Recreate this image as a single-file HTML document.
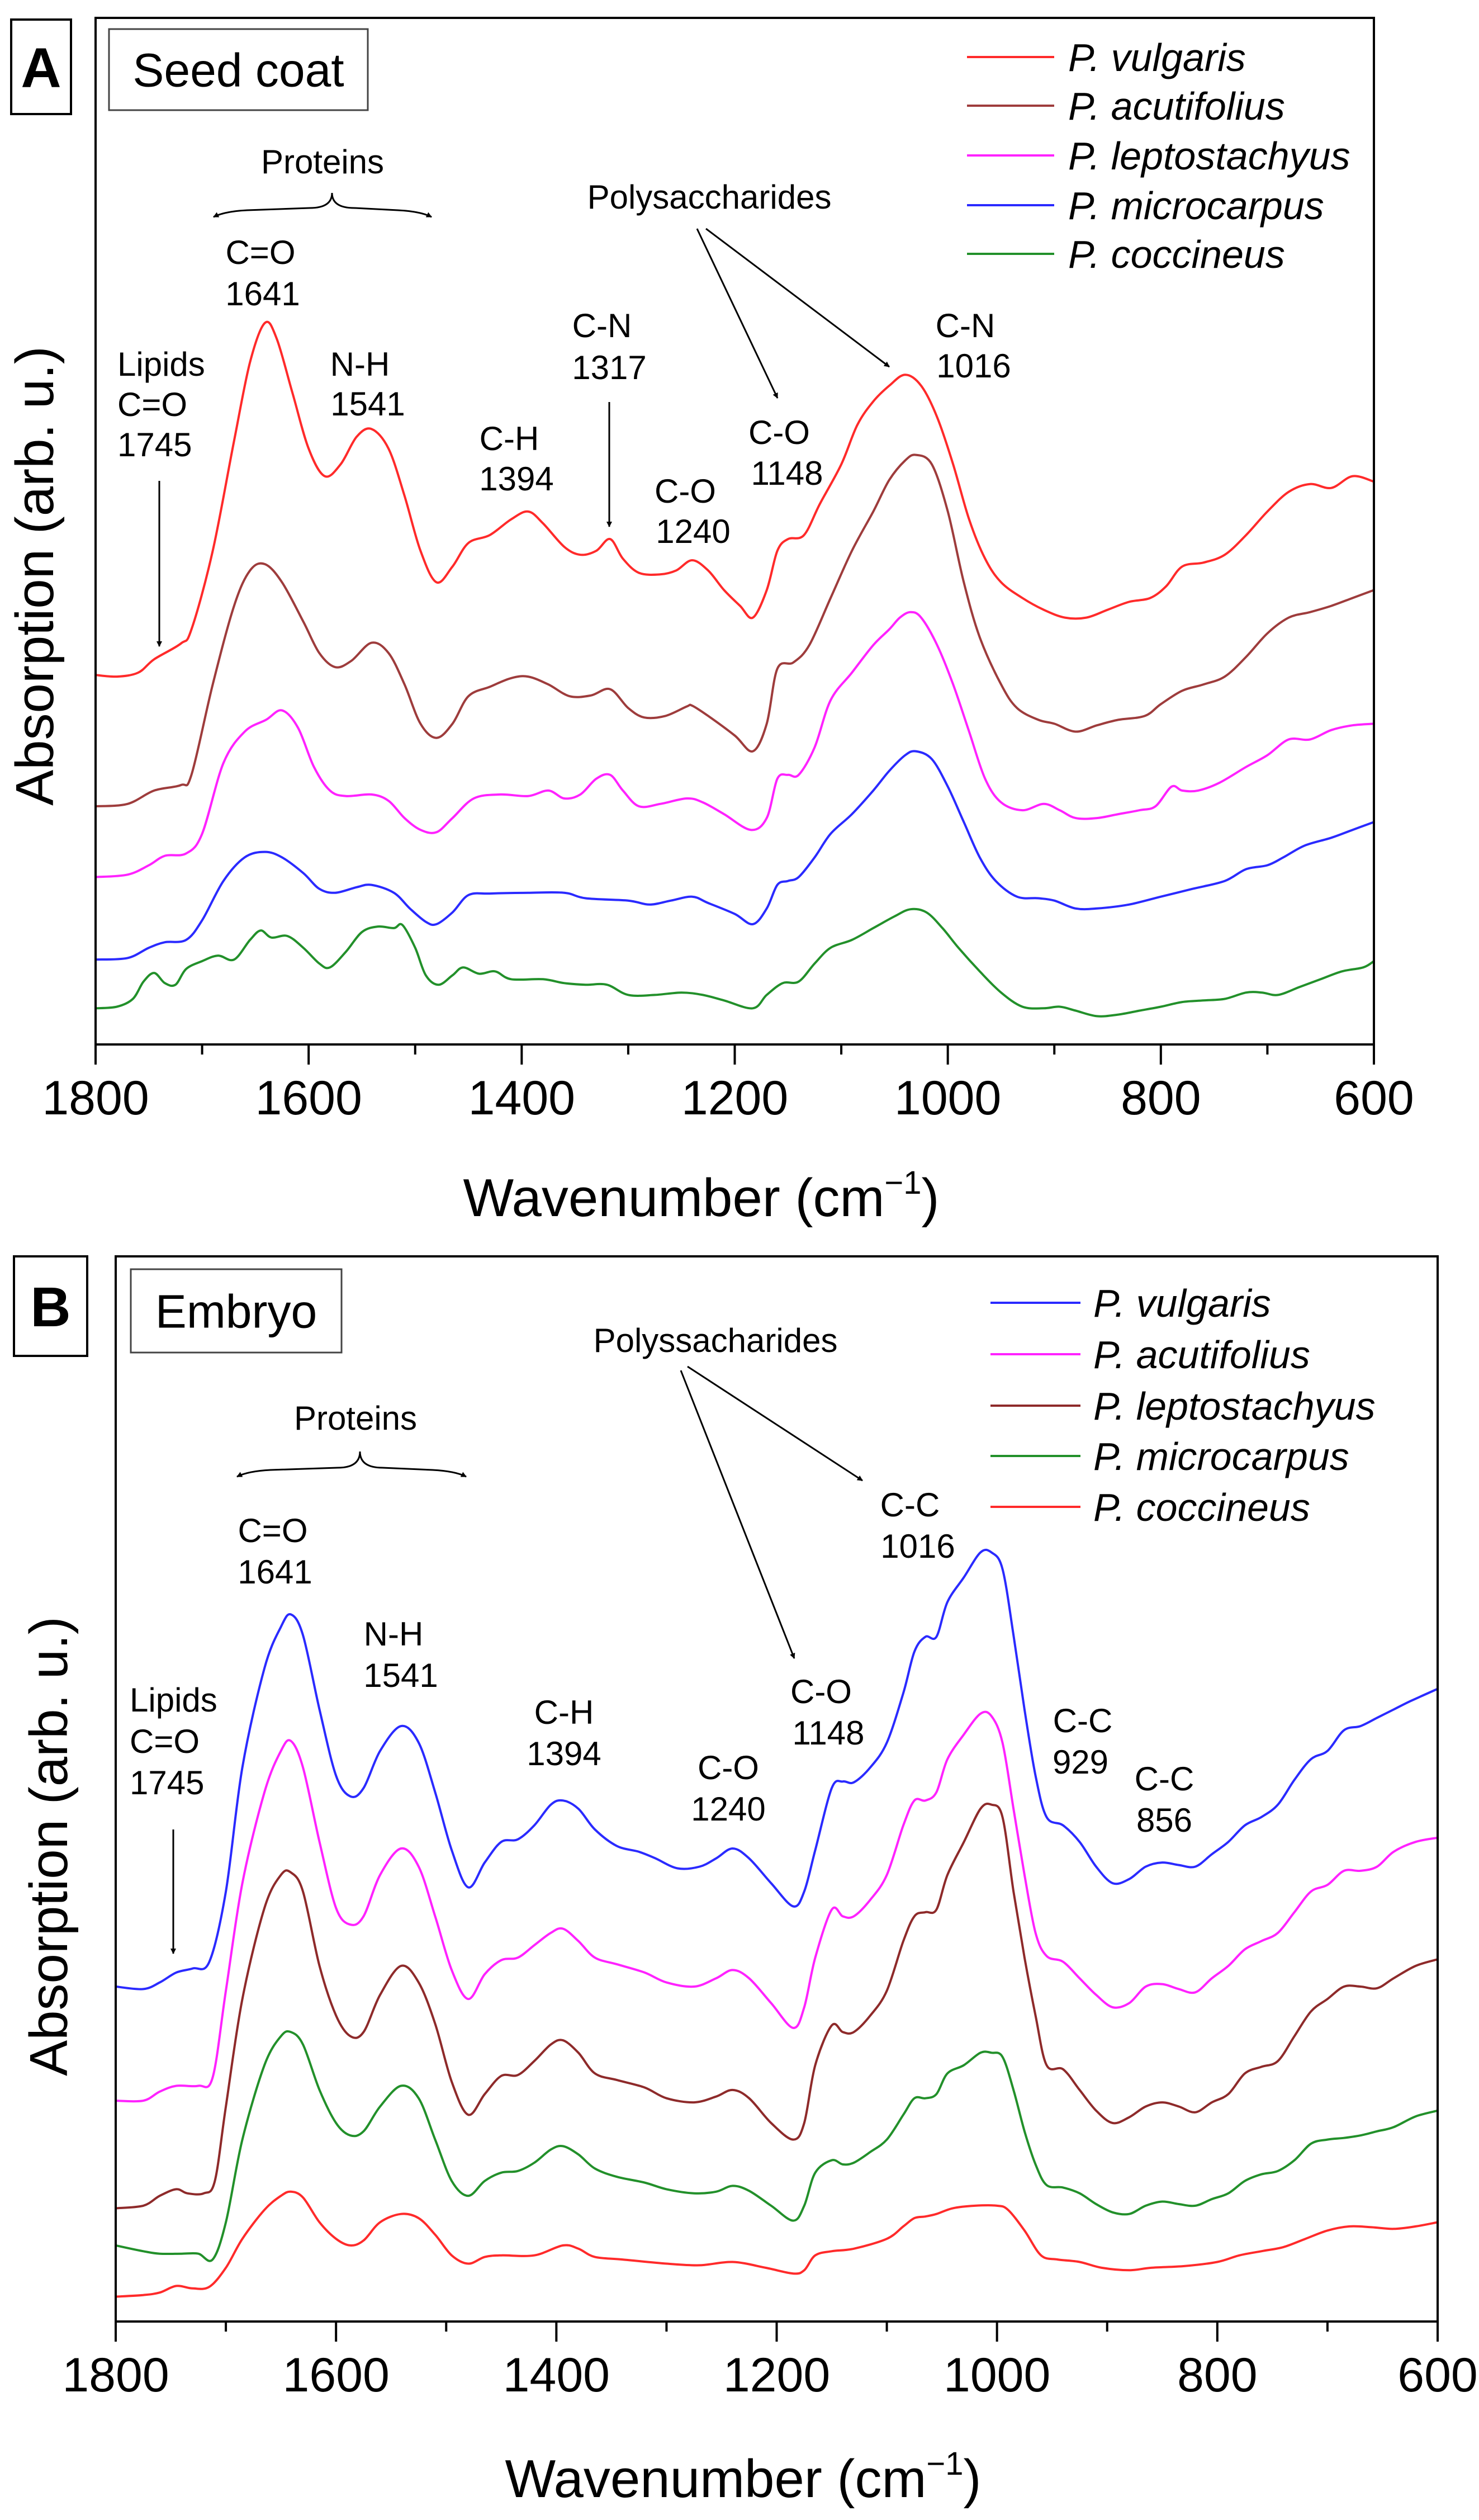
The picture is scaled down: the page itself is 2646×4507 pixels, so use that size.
<!DOCTYPE html>
<html><head><meta charset="utf-8"><style>
html,body{margin:0;padding:0;background:#fff;}
svg{display:block;font-family:"Liberation Sans",Arial,sans-serif;}
</style></head><body>
<svg id="chart" width="2646" height="4507" viewBox="0 0 2646 4507" xmlns="http://www.w3.org/2000/svg">
<defs>
<marker id="ah" markerWidth="10" markerHeight="10" refX="9" refY="5" orient="auto" markerUnits="userSpaceOnUse" viewBox="0 0 10 10"><path d="M0,0 L10,5 L0,10 z" fill="#000"/></marker>
</defs>
<rect width="2646" height="4507" fill="#fff"/>
<g id="panelA"></g>
<g id="panelB"></g>
</svg>
<script>
// ===== Data: panel A (seed coat). Values = read offsets below frame top (larger = lower absorption) =====
const A_vulgaris_wn=[1800,1780,1760,1745,1720,1710,1690,1670,1655,1641,1630,1615,1600,1585,1570,1555,1541,1525,1510,1495,1480,1465,1450,1430,1410,1394,1380,1360,1345,1330,1317,1305,1290,1270,1255,1240,1225,1210,1195,1183,1170,1160,1150,1135,1120,1100,1085,1070,1055,1040,1025,1010,995,980,965,950,930,910,890,870,850,830,810,795,780,760,740,720,700,680,660,640,620,600];
const A_vulgaris_val=[858,860,855,838,818,800,700,560,460,410,430,500,570,605,590,555,545,570,630,700,740,720,690,680,660,650,665,695,705,700,685,710,728,730,725,712,725,750,770,785,750,700,685,680,640,590,540,510,490,476,490,530,590,660,710,740,760,775,785,785,775,765,760,745,720,715,705,680,650,625,615,620,605,612];
const A_acutifolius_wn=[1800,1770,1745,1720,1710,1690,1670,1655,1641,1625,1605,1590,1575,1560,1541,1525,1510,1495,1480,1465,1450,1430,1410,1394,1375,1355,1335,1317,1300,1285,1265,1245,1240,1225,1200,1183,1170,1160,1145,1130,1110,1090,1070,1055,1040,1030,1015,1000,985,970,950,935,915,900,880,860,840,815,800,780,760,740,720,700,680,660,640,620,600];
const A_acutifolius_val=[1025,1022,1005,998,985,870,770,725,717,740,790,830,848,840,817,830,870,920,938,920,885,873,862,860,870,885,884,876,900,912,910,898,897,910,935,955,920,850,842,820,760,700,650,610,585,578,590,650,740,810,870,900,915,920,930,922,915,910,895,878,870,860,835,805,785,778,770,760,750];
const A_leptostachyus_wn=[1800,1770,1750,1735,1715,1700,1680,1660,1640,1625,1610,1595,1580,1565,1541,1525,1510,1495,1480,1465,1445,1420,1394,1375,1360,1345,1330,1317,1305,1290,1270,1245,1230,1210,1185,1170,1160,1150,1140,1125,1110,1090,1070,1055,1045,1035,1025,1010,995,980,965,950,930,910,895,880,860,840,820,805,790,780,765,745,720,700,680,660,640,620,600];
const A_leptostachyus_val=[1115,1112,1100,1088,1085,1060,970,930,915,903,925,975,1005,1012,1010,1018,1040,1055,1058,1040,1015,1010,1012,1005,1015,1010,990,985,1005,1025,1022,1015,1020,1035,1055,1040,990,985,985,950,890,855,820,800,785,778,785,820,870,930,990,1020,1030,1022,1030,1040,1040,1035,1030,1025,1000,1005,1005,995,975,960,940,940,928,922,920];
const A_microcarpus_wn=[1800,1770,1750,1735,1715,1700,1680,1660,1641,1625,1605,1590,1575,1555,1541,1520,1505,1490,1480,1465,1450,1430,1394,1360,1340,1300,1280,1260,1240,1225,1200,1183,1170,1160,1150,1140,1125,1110,1090,1070,1055,1040,1030,1015,1000,985,970,955,935,915,900,880,860,830,800,770,740,720,700,685,665,640,620,600];
const A_microcarpus_val=[1220,1218,1205,1198,1195,1170,1120,1090,1083,1090,1110,1130,1135,1128,1125,1135,1155,1172,1175,1160,1138,1136,1135,1135,1142,1145,1150,1145,1140,1148,1162,1175,1155,1125,1120,1115,1090,1060,1035,1005,980,960,955,965,1000,1045,1090,1120,1140,1142,1145,1155,1155,1150,1140,1130,1120,1105,1100,1090,1075,1065,1055,1045];
const A_coccineus_wn=[1800,1780,1765,1755,1745,1735,1725,1715,1700,1685,1670,1655,1645,1635,1620,1605,1590,1580,1565,1550,1535,1520,1512,1500,1490,1478,1465,1455,1440,1425,1410,1380,1360,1340,1320,1300,1275,1250,1230,1210,1183,1170,1155,1140,1125,1110,1090,1070,1050,1035,1020,1005,990,970,950,930,910,895,880,860,840,820,800,780,760,740,720,705,690,670,650,630,610,600];
const A_coccineus_val=[1282,1280,1270,1248,1237,1250,1252,1232,1222,1215,1220,1195,1183,1192,1190,1205,1225,1230,1210,1185,1178,1180,1176,1205,1240,1252,1240,1230,1238,1235,1245,1245,1250,1252,1252,1265,1265,1262,1265,1272,1282,1265,1250,1248,1225,1205,1195,1180,1165,1156,1160,1180,1205,1235,1262,1280,1282,1280,1285,1292,1290,1285,1280,1274,1272,1270,1262,1262,1265,1255,1245,1235,1230,1222];

// ===== Data: panel B (embryo) =====
const B_vulgaris_wn=[1800,1775,1760,1745,1730,1715,1700,1685,1665,1650,1641,1630,1615,1600,1587,1575,1560,1541,1525,1510,1495,1480,1465,1450,1435,1420,1405,1394,1380,1365,1345,1325,1310,1290,1270,1255,1240,1225,1205,1185,1175,1165,1150,1140,1130,1115,1100,1085,1075,1065,1055,1045,1030,1015,1005,995,985,975,965,955,940,925,910,895,880,865,850,835,820,805,790,775,760,745,730,715,700,685,670,655,640,625,600];
const B_vulgaris_val=[915,918,910,898,893,885,800,650,530,480,465,490,580,660,685,675,630,600,620,680,750,795,765,740,737,720,695,690,700,725,745,752,760,772,770,760,748,760,790,818,800,750,675,667,668,650,620,560,510,492,492,450,420,390,390,410,490,580,660,710,720,740,770,790,785,770,765,768,770,755,740,720,710,695,665,640,630,605,600,590,580,570,555];
const B_acutifolius_wn=[1800,1775,1760,1745,1725,1712,1700,1685,1665,1650,1641,1630,1615,1600,1587,1575,1560,1541,1525,1510,1495,1480,1465,1450,1435,1420,1405,1394,1380,1365,1345,1320,1300,1275,1255,1240,1225,1205,1185,1175,1165,1150,1140,1130,1115,1100,1085,1075,1065,1055,1045,1030,1015,1005,995,985,975,965,955,940,925,910,895,880,865,850,835,820,805,790,775,760,745,730,715,700,685,670,655,640,620,600];
const B_acutifolius_val=[1053,1053,1042,1035,1035,1025,920,790,680,630,618,650,740,820,840,830,780,748,770,830,895,930,900,883,880,865,850,845,860,880,888,898,910,915,905,895,905,935,965,940,880,822,830,830,810,780,720,690,690,680,640,610,585,588,620,700,780,850,878,885,905,925,940,935,915,912,918,922,905,890,870,860,850,825,800,792,775,775,770,752,740,735];
const B_leptostachyus_wn=[1800,1775,1760,1745,1735,1720,1710,1700,1685,1665,1650,1641,1630,1615,1600,1587,1575,1560,1541,1525,1510,1495,1480,1465,1450,1435,1420,1405,1394,1380,1365,1345,1320,1300,1275,1255,1240,1225,1205,1185,1175,1165,1150,1140,1130,1115,1100,1085,1075,1065,1055,1045,1030,1015,1005,995,985,975,965,955,940,925,910,895,880,865,850,835,820,805,790,775,760,745,730,715,700,685,670,655,640,620,600];
const B_leptostachyus_val=[1183,1180,1168,1160,1165,1165,1150,1060,930,820,780,777,800,890,950,975,970,925,890,910,960,1030,1070,1045,1023,1022,1005,985,980,995,1020,1028,1037,1050,1055,1048,1040,1050,1080,1100,1080,1010,962,970,970,950,920,860,830,825,822,780,740,700,695,710,800,880,950,1010,1015,1040,1065,1080,1073,1060,1055,1060,1067,1055,1045,1020,1012,1005,975,945,930,915,915,917,905,890,882];
const B_microcarpus_wn=[1800,1775,1760,1740,1725,1712,1700,1685,1665,1650,1641,1630,1615,1600,1587,1575,1560,1541,1525,1510,1495,1480,1465,1450,1435,1420,1405,1394,1380,1365,1345,1320,1300,1275,1255,1240,1225,1205,1185,1175,1165,1150,1140,1130,1115,1100,1085,1075,1065,1055,1045,1030,1015,1005,995,985,975,965,955,940,925,910,895,880,865,850,835,820,805,790,775,760,745,730,715,700,685,670,655,640,620,600];
const B_microcarpus_val=[1228,1235,1238,1238,1238,1245,1200,1100,1010,975,970,985,1040,1080,1095,1090,1060,1035,1050,1100,1150,1168,1150,1140,1138,1128,1112,1108,1118,1135,1145,1152,1160,1165,1163,1156,1162,1180,1198,1180,1140,1125,1130,1128,1115,1100,1070,1050,1050,1045,1020,1010,995,995,1000,1040,1090,1130,1155,1158,1165,1178,1188,1190,1180,1175,1178,1180,1172,1165,1150,1142,1138,1125,1105,1100,1098,1095,1090,1085,1072,1065];
const B_coccineus_wn=[1800,1775,1760,1745,1730,1715,1700,1685,1665,1650,1641,1630,1615,1600,1587,1575,1560,1541,1525,1510,1495,1480,1465,1450,1420,1394,1380,1365,1340,1300,1270,1240,1210,1185,1175,1165,1150,1130,1100,1085,1075,1065,1055,1040,1020,1000,990,975,960,945,925,905,880,860,830,800,780,760,740,720,700,680,660,640,620,600];
const B_coccineus_val=[1290,1288,1285,1277,1280,1278,1255,1220,1185,1168,1163,1170,1200,1220,1228,1222,1200,1190,1195,1215,1240,1250,1242,1240,1240,1228,1232,1242,1245,1250,1252,1248,1255,1262,1258,1240,1235,1232,1220,1205,1195,1193,1190,1183,1180,1180,1185,1210,1240,1245,1248,1255,1258,1255,1253,1248,1240,1235,1230,1220,1210,1205,1206,1208,1205,1200];

const xTickValues=[1800,1600,1400,1200,1000,800,600];
const xTickLabels=["1800","1600","1400","1200","1000","800","600"];
const xMinorTicks=[1700,1500,1300,1100,900,700];

const A_names=["P. vulgaris","P. acutifolius","P. leptostachyus","P. microcarpus","P. coccineus"];
const B_names=["P. vulgaris","P. acutifolius","P. leptostachyus","P. microcarpus","P. coccineus"];

const NS="http://www.w3.org/2000/svg";
function mk(parent,tag,attrs,text){const e=document.createElementNS(NS,tag);for(const k in attrs)e.setAttribute(k,attrs[k]);if(text!==undefined)e.textContent=text;parent.appendChild(e);return e;}
function pathFrom(pts){let d="M"+pts[0][0].toFixed(1)+","+pts[0][1].toFixed(1);for(let i=0;i<pts.length-1;i++){const p0=pts[i-1]||pts[i],p1=pts[i],p2=pts[i+1],p3=pts[i+2]||p2;const c1x=p1[0]+(p2[0]-p0[0])/6,c1y=p1[1]+(p2[1]-p0[1])/6,c2x=p2[0]-(p3[0]-p1[0])/6,c2y=p2[1]-(p3[1]-p1[1])/6;d+=" C"+c1x.toFixed(1)+","+c1y.toFixed(1)+" "+c2x.toFixed(1)+","+c2y.toFixed(1)+" "+p2[0].toFixed(1)+","+p2[1].toFixed(1);}return d;}

function drawPanel(g,cfg){
  const X=wn=>cfg.L+(1800-wn)/1200*(cfg.R-cfg.L);
  const Y=v=>cfg.T+(v-cfg.v0)/(cfg.v1-cfg.v0)*(cfg.B-cfg.T);
  cfg.series.forEach((s,i)=>{
    const pts=s.wn.map((w,j)=>[X(w),Y(s.val[j])]);
    const p=mk(g,"path",{d:pathFrom(pts),fill:"none",stroke:s.color,"stroke-width":4,"stroke-linejoin":"round"});
    
    
  });
  const fr=mk(g,"rect",{x:cfg.L,y:cfg.T,width:cfg.R-cfg.L,height:cfg.B-cfg.T,fill:"none",stroke:"#000","stroke-width":4});
  
  
  const ax=mk(g,"g",{});
  
  
  xTickValues.forEach((w,i)=>{
    mk(ax,"line",{x1:X(w),x2:X(w),y1:cfg.B,y2:cfg.B+36,stroke:"#000","stroke-width":4});
    const t=mk(ax,"text",{x:X(w),y:cfg.tickY,"text-anchor":"middle","font-size":86,fill:"#000"},xTickLabels[i]);
    
    
  });
  xMinorTicks.forEach(w=>{mk(ax,"line",{x1:X(w),x2:X(w),y1:cfg.B,y2:cfg.B+18,stroke:"#000","stroke-width":4});});
  const xt=mk(g,"text",{x:(cfg.L+cfg.R)/2-60,y:cfg.titleY,"text-anchor":"middle","font-size":96,fill:"#000"});
  
  
  xt.appendChild(document.createTextNode("Wavenumber (cm"));
  mk(xt,"tspan",{"font-size":58,dy:-40},"\u22121");
  mk(xt,"tspan",{dy:40},")");
  const yt=mk(g,"text",{x:0,y:0,transform:"translate("+cfg.yTitleX+","+cfg.yTitleY+") rotate(-90)","text-anchor":"middle","font-size":96,fill:"#000"},"Absorption (arb. u.)");
  
  
  const pl=mk(g,"g",{});
  
  
  mk(pl,"rect",{x:cfg.lab[0],y:cfg.lab[1],width:cfg.lab[2],height:cfg.lab[3],fill:"#fff",stroke:"#000","stroke-width":4});
  mk(pl,"text",{x:cfg.lab[0]+cfg.lab[2]/2,y:cfg.lab[1]+cfg.lab[3]/2+36,"text-anchor":"middle","font-size":100,"font-weight":"bold"},cfg.letter);
  const tb=mk(g,"g",{});
  
  
  mk(tb,"rect",{x:cfg.tbox[0],y:cfg.tbox[1],width:cfg.tbox[2],height:cfg.tbox[3],fill:"#fff",stroke:"#444","stroke-width":3});
  mk(tb,"text",{x:cfg.tbox[0]+cfg.tbox[2]/2,y:cfg.tbox[1]+cfg.tbox[3]/2+30,"text-anchor":"middle","font-size":84},cfg.title);
  const lg=mk(g,"g",{});
  
  
  cfg.series.forEach((s,i)=>{
    const y=cfg.legY[i];
    const e=mk(lg,"g",{});
    
    
    mk(e,"line",{x1:cfg.legX[0],x2:cfg.legX[1],y1:y,y2:y,stroke:s.color,"stroke-width":4});
    mk(e,"text",{x:cfg.legX[2],y:y+25,"font-size":70,"font-style":"italic"},s.name);
  });
  const an=mk(g,"g",{"font-size":60,fill:"#000"});
  
  
  cfg.ann.forEach(a=>{mk(an,"text",{x:a[1],y:a[2]+21,"text-anchor":a[3]||"middle"},a[0]);});
  cfg.arrows.forEach(a=>{mk(an,"line",{x1:a[0],y1:a[1],x2:a[2],y2:a[3],stroke:"#000","stroke-width":3,"marker-end":"url(#ah)"});});
  const b=cfg.brace;
  mk(an,"path",{d:`M${b.cx},${b.top} Q${b.cx},${b.y} ${b.cx-40},${b.y} L${b.x1+60},${b.y+4} Q${b.x1+20},${b.y+6} ${b.x1},${b.y+16}`,fill:"none",stroke:"#000","stroke-width":3,"marker-end":"url(#ah)"});
  mk(an,"path",{d:`M${b.cx},${b.top} Q${b.cx},${b.y} ${b.cx+40},${b.y} L${b.x2-60},${b.y+4} Q${b.x2-20},${b.y+6} ${b.x2},${b.y+16}`,fill:"none",stroke:"#000","stroke-width":3,"marker-end":"url(#ah)"});
}

drawPanel(document.getElementById("panelA"),{
  L:171,R:2458,T:32,B:1868,v0:22,v1:1328,tickY:1993,titleY:2175,yTitleX:95,yTitleY:1030,
  letter:"A",lab:[20,35,107,169],title:"Seed coat",tbox:[195,52,463,145],
  legX:[1730,1886,1911],legY:[102,189,278,367,454],
  series:[
    {key:"vulgaris",name:A_names[0],color:"#ff2a2a",wn:A_vulgaris_wn,val:A_vulgaris_val},
    {key:"acutifolius",name:A_names[1],color:"#9e3c3c",wn:A_acutifolius_wn,val:A_acutifolius_val},
    {key:"leptostachyus",name:A_names[2],color:"#ff22ff",wn:A_leptostachyus_wn,val:A_leptostachyus_val},
    {key:"microcarpus",name:A_names[3],color:"#2a2aff",wn:A_microcarpus_wn,val:A_microcarpus_val},
    {key:"coccineus",name:A_names[4],color:"#22902a",wn:A_coccineus_wn,val:A_coccineus_val}],
  ann:[["Proteins",577,289],["C=O",466,451],["1641",470,525],["Lipids",210,651,"start"],["C=O",210,723,"start"],["1745",210,795,"start"],
       ["N-H",644,651],["1541",658,722],["C-H",911,784],["1394",924,856],["C-N",1077,582],["1317",1090,657],
       ["C-O",1226,878],["1240",1240,950],["Polysaccharides",1269,352],["C-O",1394,773],["1148",1408,846],["C-N",1727,582],["1016",1742,654]],
  arrows:[[285,860,285,1156],[1090,719,1090,942],[1247,409,1391,712],[1263,409,1591,656]],
  brace:{x1:382,x2:772,y:372,cx:594,top:345}
});
drawPanel(document.getElementById("panelB"),{
  L:207,R:2572,T:2247,B:4152,v0:32,v1:1320,tickY:4277,titleY:4466,yTitleX:120,yTitleY:3302,
  letter:"B",lab:[25,2247,131,178],title:"Embryo",tbox:[234,2270,377,149],
  legX:[1772,1933,1956],legY:[2330,2422,2514,2604,2695],
  series:[
    {key:"vulgaris",name:B_names[0],color:"#2a2aff",wn:B_vulgaris_wn,val:B_vulgaris_val},
    {key:"acutifolius",name:B_names[1],color:"#ff22ff",wn:B_acutifolius_wn,val:B_acutifolius_val},
    {key:"leptostachyus",name:B_names[2],color:"#8e2a2a",wn:B_leptostachyus_wn,val:B_leptostachyus_val},
    {key:"microcarpus",name:B_names[3],color:"#22902a",wn:B_microcarpus_wn,val:B_microcarpus_val},
    {key:"coccineus",name:B_names[4],color:"#ff2a2a",wn:B_coccineus_wn,val:B_coccineus_val}],
  ann:[["Polyssacharides",1280,2397],["Proteins",636,2536],["C=O",488,2737],["1641",492,2811],
       ["Lipids",232,3040,"start"],["C=O",232,3114,"start"],["1745",232,3188,"start"],
       ["N-H",704,2922],["1541",717,2996],["C-H",1009,3062],["1394",1009,3136],["C-O",1303,3161],["1240",1303,3235],
       ["C-O",1469,3025],["1148",1482,3099],["C-C",1628,2691],["1016",1642,2765],["C-C",1937,3077],["929",1933,3151],["C-C",2083,3181],["856",2083,3255]],
  arrows:[[310,3272,310,3494],[1218,2451,1421,2966],[1230,2444,1543,2648]],
  brace:{x1:424,x2:834,y:2625,cx:644,top:2596}
});
</script>
</body></html>
